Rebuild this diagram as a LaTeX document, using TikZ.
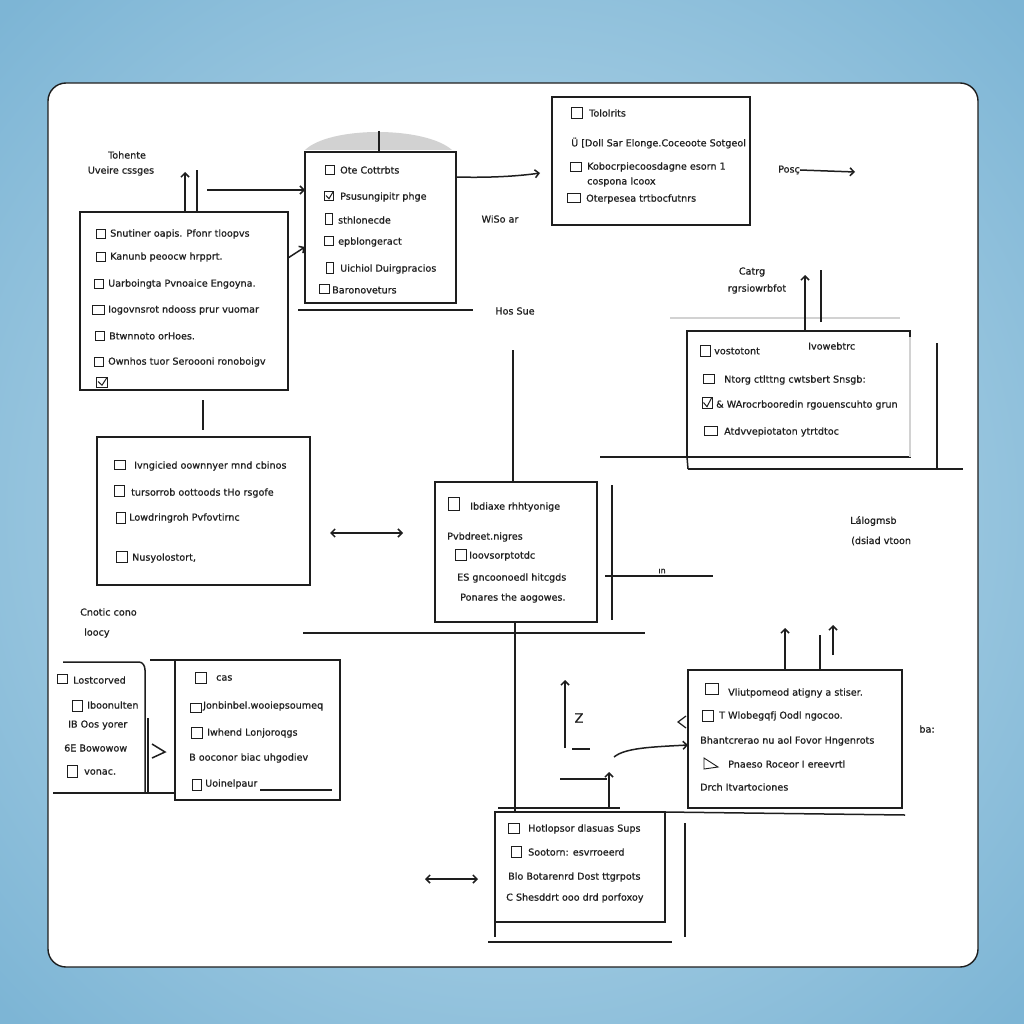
\documentclass[tikz,border=0pt]{standalone}
\usepackage{fontspec}
\newfontfamily\hand[FakeBold=0.7]{DejaVu Sans}
\usetikzlibrary{arrows.meta}
\definecolor{bgin}{HTML}{C4E0EE}
\definecolor{bgout}{HTML}{7DB5D5}
\definecolor{ink}{HTML}{1E1E1E}
\definecolor{capgray}{HTML}{D2D2D2}
\begin{document}
\begin{tikzpicture}[x=1pt,y=-1pt,
  frame/.style={draw=ink, line width=1.8pt, inner sep=0pt, outer sep=0pt},
  ghost/.style={draw=none, inner sep=0pt, outer sep=0pt},
  txt/.style={anchor=west, inner sep=0pt, font=\hand\fontsize{9.6}{11}\selectfont, text=ink},
  lbl/.style={inner sep=0pt, font=\hand\fontsize{9.6}{12}\selectfont, text=ink, align=center},
  cb/.style={draw=ink, line width=1pt, minimum width=9pt, minimum height=9pt, inner sep=0pt},
  chk/.style={cb, path picture={\draw[ink, line width=1pt]
      ([xshift=1.5pt,yshift=0.5pt]path picture bounding box.west) --
      ([yshift=1.8pt]path picture bounding box.south) --
      ([xshift=-0.5pt,yshift=-0.5pt]path picture bounding box.north east);}},
  wire/.style={draw=ink, line width=1.5pt},
  faint/.style={draw=gray!35, line width=1.2pt},
  arr/.style={wire, -{Straight Barb[length=4pt,width=8pt]}},
  arrtwo/.style={wire, {Straight Barb[length=4pt,width=8pt]}-{Straight Barb[length=4pt,width=8pt]}},
]
\useasboundingbox (0,0) rectangle (1024,1024);
\shade[inner color=bgin, outer color=bgout] (-200,-200) rectangle (1224,1224);
\draw[ink, line width=1.4pt, fill=white, rounded corners=18pt] (48,83) rectangle (978,967);

% ---------------- Box A (top left) ----------------
\node[frame, minimum width=208pt, minimum height=178pt] (A) at (184,301) {};
\node[cb] (Aa) at (101,234) {}; \node[txt] (Ta) at (110,234) {Snutiner oapis. Pfonr tloopvs};
\node[cb] (Ab) at (101,257) {}; \node[txt] (Tb) at (110,257) {Kanunb peoocw hrpprt.};
\node[cb] (Ac) at (99,284) {};  \node[txt] (Tc) at (108,284) {Uarboingta Pvnoaice Engoyna.};
\node[cb, minimum width=12pt] (Ad) at (98,310) {}; \node[txt] (Td) at (108,310) {Iogovnsrot ndooss prur vuomar};
\node[cb] (Ae) at (100,336) {}; \node[txt] (Te) at (109,336) {Btwnnoto orHoes.};
\node[cb] (Af) at (99,362) {};  \node[txt] (Tf) at (108,362) {Ownhos tuor Seroooni ronoboigv};
\node[chk, minimum width=11pt, minimum height=10pt] (Ag) at (102,382) {};
\node[lbl] (L1) at (127,155) {Tohente};
\node[lbl] (L2) at (121,171) {Uveire cssges};
\coordinate (t1) at (185,172);
\coordinate (t2) at (197,170);
\coordinate (t3) at (207,190);
\draw[arr] (A.north -| t1) -- (t1);
\draw[wire] (A.north -| t2) -- (t2);

% ---------------- Box B (top middle) ----------------
\fill[capgray] (305,150) .. controls (330,126) and (425,126) .. (452,150) -- cycle;
\node[frame, minimum width=151pt, minimum height=151pt] (B) at (380.5,227.5) {};
\draw[wire] (298,310) -- (473,310);
\coordinate (bt) at (379,131);
\draw[wire, line width=1.2pt] (bt) -- (B.north -| bt);
\node[cb] (Ba) at (330,170) {}; \node[txt] (Ua) at (340,170) {Ote Cottrbts};
\node[chk] (Bb) at (329,196) {}; \node[txt] (Ub) at (340,197) {Psusungipitr phge};
\node[cb, minimum width=7pt, minimum height=11pt] (Bc) at (329,219) {}; \node[txt] (Uc) at (338,220) {sthlonecde};
\node[cb] (Bd) at (329,241) {}; \node[txt] (Ud) at (338,242) {epblongeract};
\node[cb, minimum width=7pt, minimum height=11pt] (Be) at (330,268) {}; \node[txt] (Ue) at (340,269) {Uichiol Duirgpracios};
\node[cb, minimum width=10pt] (Bf) at (324,289) {}; \node[txt] (Uf) at (332,290) {Baronoveturs};
\draw[arr] (t3) -- (B.west |- t3);
\draw[arr] ([yshift=-46pt]A.north east) -- (B.west |- 0,247);

% ---------------- Box C (top right) ----------------
\node[frame, minimum width=198pt, minimum height=128pt] (C) at (651,161) {};
\node[cb, minimum width=11pt, minimum height=11pt] (Ca) at (577,113) {}; \node[txt] (Va) at (589,113) {Tololrits};
\node[txt] (Vb) at (571,143) {Ü [Doll Sar Elonge.Coceoote Sotgeol};
\node[cb, minimum width=11pt] (Cc) at (576,167) {}; \node[txt] (Vc) at (587,167) {Kobocrpiecoosdagne esorn 1};
\node[txt] (Vd) at (587,182) {cospona Icoox};
\node[cb, minimum width=13pt] (Ce) at (574,198) {}; \node[txt] (Ve) at (586,199) {Oterpesea trtbocfutnrs};
\draw[arr] (B.east |- 0,177) .. controls (490,178) and (520,176) .. ([xshift=-12pt]C.west |- 0,173);
\node[lbl, anchor=east] (posl) at (800,170) {Posç};
\coordinate (pe) at (855,172);
\draw[arr] (posl.east) -- (pe);
\node[lbl] (L3) at (500,219) {WiSo ar};
\node[lbl] (L4) at (515,311) {Hos Sue};

% ---------------- Box D (right) ----------------
\draw[faint] (670,318) -- (900,318);
\node[frame, minimum width=223pt, minimum height=126pt] (D) at (798.5,394) {};
\draw[faint] (910,337) -- (910,457);
\draw[wire] (937,343) -- (937,470);
\draw[wire] (688,469) -- (963,469);
\draw[wire] (D.south west) -- (688,469);
\coordinate (d0) at (600,457);
\draw[wire] (d0) -- (D.south west);
\coordinate (t4) at (805,275);
\coordinate (t5) at (821,270);
\draw[arr] (D.north -| t4) -- (t4);
\draw[wire] (821,322) -- (t5);
\node[lbl] (L5) at (752,272) {Catrg};
\node[lbl] (L6) at (757,289) {rgrsiowrbfot};
\node[cb, minimum width=10pt, minimum height=11pt] (Da) at (705,351) {}; \node[txt] (Wa) at (714,351) {vostotont};
\node[txt] (Wb) at (808,346) {Ivowebtrc};
\node[cb, minimum width=11pt] (Dc) at (709,379) {}; \node[txt] (Wc) at (724,380) {Ntorg ctlttng cwtsbert Snsgb:};
\node[chk, minimum width=10pt, minimum height=11pt] (Dd) at (707,403) {}; \node[txt] (Wd) at (716,405) {\& WArocrbooredin rgouenscuhto grun};
\node[cb, minimum width=13pt] (De) at (711,431) {}; \node[txt] (We) at (724,432) {Atdvvepiotaton ytrtdtoc};

% ---------------- Box E (middle left) ----------------
\node[frame, minimum width=213pt, minimum height=148pt] (E) at (203.5,511) {};
\coordinate (ae) at (203,0);
\draw[wire] ([yshift=-10pt]A.south -| ae) -- ([yshift=7pt]E.north -| ae);
\node[cb, minimum width=11pt] (Ea) at (120,465) {}; \node[txt] (Xa) at (134,466) {Ivngicied oownnyer mnd cbinos};
\node[cb, minimum width=10pt, minimum height=11pt] (Eb) at (119,491) {}; \node[txt] (Xb) at (131,493) {tursorrob oottoods tHo rsgofe};
\node[cb, minimum width=9pt, minimum height=11pt] (Ec) at (121,518) {}; \node[txt] (Xc) at (129,518) {Lowdringroh Pvfovtirnc};
\node[cb, minimum width=11pt, minimum height=11pt] (Ed) at (122,557) {}; \node[txt] (Xd) at (132,558) {Nusyolostort,};
\node[lbl, anchor=west] (L7) at (80,612) {Cnotic cono};
\node[lbl, anchor=west] (L8) at (84,633) {loocy};

% ---------------- Box F (center) ----------------
\node[frame, minimum width=162pt, minimum height=140pt] (F) at (516,552) {};
\draw[wire] (612,485) -- (612,620);
\coordinate (f0) at (513,350);
\draw[wire] (f0) -- (F.north -| f0);
\draw[arrtwo] ([xshift=20pt]E.east |- 0,533) -- ([xshift=-32pt]F.west |- 0,533);
\node[cb, minimum width=11pt, minimum height=13pt] (Fa) at (454,504) {}; \node[txt] (Ya) at (470,507) {Ibdiaxe rhhtyonige};
\node[txt] (Yb) at (447,537) {Pvbdreet.nigres};
\node[cb, minimum width=11pt, minimum height=11pt] (Fc) at (461,555) {}; \node[txt] (Yc) at (469,556) {Ioovsorptotdc};
\node[txt] (Yd) at (457,578) {ES gncoonoedl hitcgds};
\node[txt] (Ye) at (460,598) {Ponares the aogowes.};
\coordinate (h1) at (303,633);
\coordinate (h2) at (645,633);
\draw[wire] (h1) -- (h2);
\coordinate (fr) at (713,576);
\draw[wire] ([xshift=8pt]F.east |- fr) -- (fr);
\node[lbl, font=\hand\fontsize{8}{9}\selectfont] (L9) at (662,571) {ın};
\node[lbl, anchor=west] (L10) at (850,521) {Lálogmsb};
\node[lbl, anchor=west] (L11) at (851,541) {(dsiad vtoon};

% ---------------- Box G (right lower) ----------------
\node[frame, minimum width=214pt, minimum height=138pt] (G) at (795,739) {};
\coordinate (g1) at (785,628);
\coordinate (g2) at (820,635);
\coordinate (g3) at (833,625);
\draw[arr] (G.north -| g1) -- (g1);
\draw[wire] (G.north -| g2) -- (g2);
\draw[arr] (833,655) -- (g3);
\node[cb, minimum width=13pt, minimum height=11pt] (Ga) at (712,689) {}; \node[txt] (Za) at (728,693) {Vliutpomeod atigny a stiser.};
\node[cb, minimum width=11pt, minimum height=11pt] (Gb) at (708,716) {}; \node[txt] (Zb) at (719,716) {T Wlobegqfj Oodl ngocoo.};
\node[txt] (Zc) at (700,741) {Bhantcrerao nu aol Fovor Hngenrots};
\draw[ink, line width=0.9pt] (704,758) -- (704,769) -- (718,767) -- cycle;
\node[txt] (Zd) at (728,764) {Pnaeso Roceor I ereevrtl};
\node[txt] (Ze) at (700,787) {Drch Itvartociones};
\node[lbl] (L12) at (927,729) {ba:};
\draw[wire, line width=1.2pt] ([xshift=-2pt,yshift=6pt]G.west |- 0,722) -- ([xshift=-10pt]G.west |- 0,722) -- ([xshift=-2pt,yshift=-6pt]G.west |- 0,722);

% connectors left of G
\coordinate (z1) at (565,680);
\draw[arr] (565,748) -- (z1);
\node[lbl, font=\hand\fontsize{13}{14}\selectfont] (Zg) at (579,718) {Z};
\draw[wire, line width=1.2pt] (572,749) -- (590,749);
\coordinate (z2) at (614,757);
\draw[arr] (z2) .. controls (625,748) and (650,747) .. (G.west |- 0,745);
\coordinate (z3) at (560,779);
\coordinate (z4) at (609,772);
\draw[wire] (z3) -- (607,779);
\draw[arr] (609,807) -- (z4);

% ---------------- Box H (bottom center) ----------------
\node[frame, minimum width=170pt, minimum height=110pt] (H) at (580,867) {};
\draw[wire] (H.north east) -- (905,815);
\draw[wire] (H.south west) -- (495,937);
\draw[wire] (685,823) -- (685,937);
\draw[wire] (488,942) -- (672,942);
\draw[wire] (498,808) -- (620,808);
\coordinate (f1) at (515,0);
\draw[wire] (F.south -| f1) -- (H.north -| f1);
\node[cb, minimum width=11pt, minimum height=10pt] (Ha) at (514,828) {}; \node[txt] (Qa) at (528,829) {Hotlopsor dlasuas Sups};
\node[cb, minimum width=10pt, minimum height=11pt] (Hb) at (516,852) {}; \node[txt] (Qb) at (528,852) {Sootorn: esvrroeerd};
\node[txt] (Qc) at (508,877) {Blo Botarenrd Dost ttgrpots};
\node[txt] (Qd) at (506,898) {C Shesddrt ooo drd porfoxoy};
\draw[arrtwo] ([xshift=-70pt]H.west |- 0,879) -- ([xshift=-17pt]H.west |- 0,879);

% ---------------- Boxes I and J (bottom left) ----------------
\node[ghost, minimum width=92pt, minimum height=131pt] (I) at (99,727.5) {};
\node[frame, minimum width=165pt, minimum height=140pt] (J) at (257.5,730) {};
\draw[wire] ([xshift=10pt]I.north west) -- ([xshift=-6pt]I.north east) to[out=0,in=90] ([yshift=-8pt]I.north east) -- (I.south east);
\draw[wire] (I.south west) -- (I.south west -| J.west);
\draw[wire] (148,718) -- (148,792);
\draw[wire] (J.north west) -- (150,660);
\draw[wire, line width=1.2pt] (260,790) -- (332,790);
\draw[wire] (152,744) -- (165,752) -- (152,758);
\node[cb, minimum width=10pt] (Ia) at (62,679) {}; \node[txt] (Ra) at (73,680) {Lostcorved};
\node[cb, minimum width=10pt, minimum height=11pt] (Ib) at (77,706) {}; \node[txt] (Rb) at (87,705) {Iboonulten};
\node[txt] (Rc) at (68,725) {IB Oos yorer};
\node[txt] (Rd) at (64,748) {6E Bowowow};
\node[cb, minimum width=10pt, minimum height=12pt] (Ie) at (72,771) {}; \node[txt] (Re) at (84,772) {vonac.};
\node[cb, minimum width=11pt, minimum height=11pt] (Ja) at (201,678) {}; \node[txt] (Sa) at (216,678) {cas};
\node[cb, minimum width=11pt] (Jb) at (196,708) {}; \node[txt] (Sb) at (203,706) {Jonbinbel.wooiepsoumeq};
\node[cb, minimum width=11pt, minimum height=11pt] (Jc) at (197,733) {}; \node[txt] (Sc) at (207,733) {Iwhend Lonjoroqgs};
\node[txt] (Sd) at (189,758) {B ooconor biac uhgodiev};
\node[cb, minimum width=9pt, minimum height=11pt] (Je) at (197,785) {}; \node[txt] (Se) at (205,784) {Uoinelpaur};
\end{tikzpicture}
\end{document}
